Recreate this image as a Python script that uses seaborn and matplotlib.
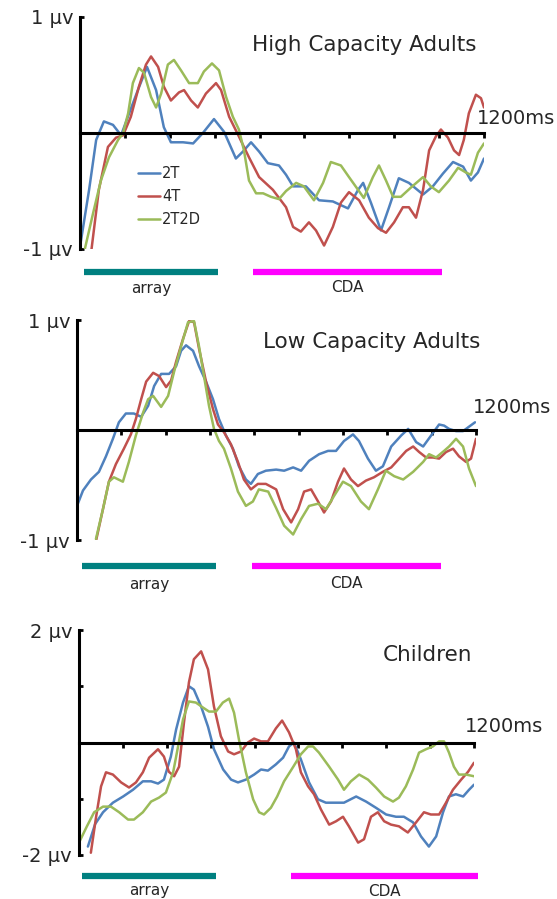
import numpy as np
import pandas as pd
import matplotlib
matplotlib.use('Agg')
import matplotlib.pyplot as plt
import seaborn as sns

# conditions and colours
conditions = ['2T', '4T', '2T2D']
palette = {'2T': '#4f81bd', '4T': '#c0504d', '2T2D': '#9bbb59'}

# ---- High Capacity Adults (uV, time in ms) ----
hi_2t_t = [0, 27, 48, 71, 98, 122, 146, 172, 199, 226, 249, 270, 306, 336, 365, 398, 428, 463, 484, 508,
           532, 558, 591, 612, 633, 671, 710, 751, 796, 826, 841, 864, 894, 918, 947, 977, 1019, 1048, 1078, 1108,
           1138, 1161, 1182, 1200]
hi_2t_v = [-0.98, -0.49, -0.06, 0.10, 0.07, -0.02, 0.17, 0.37, 0.57, 0.37, 0.05, -0.08, -0.08, -0.09, 0.0, 0.12,
           0.01, -0.22, -0.16, -0.08, -0.16, -0.26, -0.28, -0.36, -0.46, -0.46, -0.58, -0.59, -0.65, -0.49,
           -0.43, -0.60, -0.84, -0.64, -0.39, -0.43, -0.53, -0.46, -0.35, -0.25, -0.29, -0.41, -0.34, -0.22]
hi_4t_t = [33, 56, 83, 107, 128, 151, 175, 196, 211, 232, 249, 270, 294, 309, 330, 350, 374, 404, 419, 443,
           472, 502, 532, 573, 612, 633, 656, 680, 701, 725, 751, 775, 799, 829, 858, 885, 909, 933, 959, 977,
           998, 1019, 1037, 1057, 1072, 1093, 1111, 1126, 1140, 1155, 1176, 1191, 1200]
hi_4t_v = [-1.03, -0.49, -0.12, -0.04, -0.02, 0.14, 0.40, 0.59, 0.66, 0.57, 0.40, 0.28, 0.35, 0.37, 0.28,
           0.22, 0.34, 0.43, 0.37, 0.14, -0.03, -0.21, -0.38, -0.49, -0.64, -0.81, -0.85, -0.77, -0.84, -0.97,
           -0.81, -0.60, -0.51, -0.58, -0.73, -0.82, -0.86, -0.77, -0.64, -0.64, -0.73, -0.49, -0.15, -0.03,
           0.03, -0.04, -0.15, -0.19, -0.06, 0.17, 0.33, 0.30, 0.22]
hi_2t2d_t = [12, 39, 62, 86, 113, 128, 143, 157, 175, 190, 211, 226, 241, 261, 279, 300, 324, 350, 368, 392,
             413, 434, 454, 472, 487, 502, 523, 544, 567, 591, 612, 642, 665, 695, 722, 745, 775, 799, 826, 843,
             870, 888, 909, 930, 953, 983, 1019, 1042, 1066, 1096, 1123, 1146, 1161, 1182, 1200]
hi_2t2d_v = [-1.03, -0.69, -0.41, -0.21, -0.06, 0.0, 0.17, 0.43, 0.56, 0.52, 0.31, 0.22, 0.34, 0.59, 0.63,
             0.54, 0.43, 0.43, 0.53, 0.60, 0.54, 0.31, 0.14, 0.03, -0.15, -0.41, -0.52, -0.52, -0.55, -0.57,
             -0.50, -0.43, -0.46, -0.58, -0.43, -0.25, -0.28, -0.38, -0.49, -0.56, -0.38, -0.28, -0.41, -0.55,
             -0.55, -0.47, -0.38, -0.46, -0.51, -0.41, -0.30, -0.34, -0.36, -0.17, -0.09]

# ---- Low Capacity Adults ----
lo_2t_t = [0, 18, 42, 66, 87, 108, 126, 147, 171, 193, 214, 232, 253, 277, 298, 313, 328, 349, 367, 388,
           409, 427, 448, 469, 487, 508, 523, 544, 568, 599, 623, 650, 674, 698, 728, 755, 779, 803, 830, 848,
           875, 899, 920, 945, 975, 996, 1020, 1041, 1065, 1089, 1104, 1119, 1140, 1161, 1179, 1197]
lo_2t_v = [-0.69, -0.55, -0.45, -0.38, -0.24, -0.08, 0.07, 0.15, 0.15, 0.12, 0.22, 0.40, 0.51, 0.51, 0.58,
           0.72, 0.77, 0.72, 0.58, 0.44, 0.28, 0.10, -0.05, -0.17, -0.33, -0.45, -0.49, -0.40, -0.37, -0.36,
           -0.37, -0.34, -0.37, -0.28, -0.22, -0.19, -0.19, -0.10, -0.04, -0.10, -0.26, -0.37, -0.33, -0.15,
           -0.05, 0.01, -0.11, -0.15, -0.05, 0.05, 0.04, 0.01, -0.01, -0.01, 0.03, 0.07]
lo_4t_t = [57, 78, 96, 117, 141, 162, 177, 193, 208, 229, 247, 268, 283, 298, 319, 337, 352, 367, 388, 409,
           424, 442, 463, 484, 502, 523, 544, 568, 599, 620, 644, 665, 683, 704, 725, 743, 764, 785, 803, 824,
           845, 869, 893, 920, 945, 969, 990, 1011, 1029, 1050, 1071, 1089, 1110, 1131, 1149, 1170, 1185, 1200]
lo_4t_v = [-1.01, -0.72, -0.47, -0.31, -0.17, -0.04, 0.10, 0.28, 0.44, 0.52, 0.49, 0.39, 0.45, 0.62, 0.83,
           0.99, 0.98, 0.74, 0.44, 0.19, 0.05, -0.02, -0.13, -0.29, -0.45, -0.54, -0.49, -0.49, -0.54, -0.72,
           -0.84, -0.72, -0.56, -0.54, -0.65, -0.75, -0.65, -0.47, -0.35, -0.45, -0.51, -0.46, -0.43, -0.38,
           -0.34, -0.26, -0.19, -0.15, -0.20, -0.25, -0.25, -0.26, -0.20, -0.17, -0.24, -0.29, -0.26, -0.08]
lo_2t2d_t = [57, 78, 96, 111, 138, 156, 177, 199, 214, 229, 253, 274, 292, 313, 334, 352, 367, 382, 397, 412,
             427, 442, 463, 484, 508, 529, 547, 575, 599, 623, 650, 674, 698, 725, 749, 773, 800, 824, 854, 878,
             905, 929, 954, 981, 1011, 1041, 1059, 1080, 1104, 1119, 1140, 1161, 1179, 1200]
lo_2t2d_v = [-0.99, -0.72, -0.47, -0.43, -0.47, -0.29, -0.05, 0.16, 0.28, 0.31, 0.21, 0.31, 0.53, 0.76, 0.98,
             0.99, 0.76, 0.49, 0.22, 0.01, -0.10, -0.17, -0.35, -0.56, -0.69, -0.65, -0.54, -0.56, -0.71, -0.87,
             -0.95, -0.81, -0.69, -0.67, -0.72, -0.60, -0.47, -0.51, -0.65, -0.72, -0.54, -0.37, -0.42, -0.45,
             -0.38, -0.29, -0.22, -0.25, -0.19, -0.15, -0.08, -0.15, -0.35, -0.51]

# ---- Children ----
ch_2t_t = [27, 49, 73, 103, 134, 164, 194, 219, 240, 258, 279, 295, 316, 334, 349, 371, 392, 410, 438, 462,
           483, 507, 532, 553, 574, 598, 620, 638, 653, 674, 699, 726, 750, 781, 805, 842, 872, 902, 933, 963,
           987, 1015, 1039, 1063, 1085, 1106, 1124, 1145, 1167, 1185, 1200]
ch_2t_v = [-1.85, -1.45, -1.24, -1.07, -0.96, -0.84, -0.69, -0.69, -0.73, -0.66, -0.25, 0.23, 0.71, 1.0, 0.94,
           0.64, 0.28, -0.12, -0.48, -0.66, -0.71, -0.66, -0.57, -0.48, -0.50, -0.39, -0.27, -0.07, 0.0, -0.30,
           -0.71, -1.01, -1.07, -1.07, -1.07, -0.96, -1.05, -1.16, -1.28, -1.32, -1.32, -1.42, -1.67, -1.85,
           -1.67, -1.24, -0.96, -0.92, -0.96, -0.84, -0.75]
ch_4t_t = [36, 52, 67, 82, 103, 128, 152, 173, 194, 213, 240, 258, 273, 289, 304, 319, 334, 349, 371, 392,
           410, 431, 453, 471, 492, 513, 532, 553, 574, 598, 617, 638, 659, 674, 696, 714, 735, 760, 781, 802,
           820, 848, 866, 887, 908, 927, 948, 972, 999, 1024, 1048, 1069, 1094, 1115, 1136, 1161, 1182, 1200]
ch_4t_v = [-1.96, -1.32, -0.78, -0.53, -0.57, -0.71, -0.80, -0.71, -0.53, -0.27, -0.12, -0.25, -0.52, -0.60,
           -0.43, 0.36, 1.07, 1.48, 1.62, 1.30, 0.64, 0.11, -0.16, -0.21, -0.16, 0.0, 0.07, 0.02, 0.02, 0.25,
           0.39, 0.18, -0.12, -0.53, -0.78, -0.92, -1.19, -1.46, -1.40, -1.32, -1.49, -1.78, -1.72, -1.32,
           -1.24, -1.40, -1.46, -1.49, -1.60, -1.42, -1.24, -1.28, -1.28, -1.07, -0.84, -0.66, -0.52, -0.36]
ch_2t2d_t = [0, 24, 46, 73, 97, 122, 149, 167, 194, 219, 243, 264, 286, 301, 316, 334, 355, 377, 395, 416,
             437, 456, 471, 486, 507, 529, 547, 562, 583, 602, 623, 650, 674, 696, 711, 729, 760, 787, 805, 826,
             851, 878, 902, 927, 954, 972, 993, 1015, 1033, 1054, 1075, 1094, 1109, 1124, 1139, 1154, 1176, 1200]
ch_2t2d_v = [-1.78, -1.49, -1.24, -1.14, -1.14, -1.24, -1.37, -1.37, -1.24, -1.05, -0.98, -0.89, -0.53, -0.07,
             0.41, 0.73, 0.71, 0.62, 0.55, 0.55, 0.71, 0.78, 0.53, 0.05, -0.53, -1.01, -1.24, -1.28, -1.16,
             -0.96, -0.69, -0.44, -0.21, -0.07, -0.07, -0.18, -0.43, -0.66, -0.84, -0.69, -0.57, -0.66, -0.80,
             -0.96, -1.05, -0.98, -0.78, -0.48, -0.18, -0.12, -0.07, 0.02, 0.02, -0.18, -0.43, -0.57, -0.57, -0.60]

# time windows of the coloured bars (ms)
array_windows = [[12, 410], [15, 418], [9, 416]]
cda_windows = [[514, 1075], [526, 1095], [644, 1212]]
titles = ['High Capacity Adults', 'Low Capacity Adults', 'Children']


def make_df(ts, vs):
    frames = []
    for c, t, v in zip(conditions, ts, vs):
        frames.append(pd.DataFrame({'t': t, 'v': v, 'cond': c}))
    return pd.concat(frames, ignore_index=True)


sns.set_style('white')
plt.rcParams['font.family'] = ['DejaVu Sans']
txt_col = '#262626'

W, H = 557, 899
fig = plt.figure(figsize=(W / 100, H / 100), dpi=100)


def px(x, y):
    return x / W, 1 - y / H


# pixel layout: left, top, right, bottom of each plot box
boxes = [(80, 17, 484, 249), (77, 320, 476, 540), (79, 630, 474, 855)]
dfs = [make_df([hi_2t_t, hi_4t_t, hi_2t2d_t], [hi_2t_v, hi_4t_v, hi_2t2d_v]),
       make_df([lo_2t_t, lo_4t_t, lo_2t2d_t], [lo_2t_v, lo_4t_v, lo_2t2d_v]),
       make_df([ch_2t_t, ch_4t_t, ch_2t2d_t], [ch_2t_v, ch_4t_v, ch_2t2d_v])]
ylims = [1, 1, 2]
bar_y = [(272, 288), (566, 584), (876, 891)]
title_pos = [(477, 45), (480, 342), (472, 655)]
ms_pos = [(477, 118), (473, 408), (465, 726)]

for i in range(3):
    l, t, r, b = boxes[i]
    ax = fig.add_axes([l / W, 1 - b / H, (r - l) / W, (b - t) / H])
    sns.lineplot(data=dfs[i], x='t', y='v', hue='cond', hue_order=conditions, palette=palette,
                 errorbar=None, lw=1.8, ax=ax, legend=(i == 0), solid_joinstyle='round')
    ym = ylims[i]
    ax.set_xlim(0, 1200)
    ax.set_ylim(-ym, ym)
    ax.set_xlabel('')
    ax.set_ylabel('')
    for s in ['top', 'right']:
        ax.spines[s].set_visible(False)
    ax.spines['bottom'].set_position(('data', 0))
    for s in ['left', 'bottom']:
        ax.spines[s].set_linewidth(2.2)
        ax.spines[s].set_color('black')
    ax.set_xticks(np.linspace(0, 1200, 10))
    ax.set_xticklabels([])
    ax.tick_params(axis='x', direction='out', length=3.5, width=2, color='black', bottom=True)
    if ym == 1:
        ax.set_yticks([-1, 1])
        ax.set_yticklabels(['-1 \u00b5v', '1 \u00b5v'])
    else:
        ax.set_yticks([-2, -1, 1, 2])
        ax.set_yticklabels(['-2 \u00b5v', '', '', '2 \u00b5v'])
    ax.tick_params(axis='y', direction='in', length=3, width=2, color='black', left=True,
                   labelsize=14, labelcolor=txt_col, pad=5)

    # stimulus / CDA bars under the axis
    trans = ax.get_xaxis_transform()
    yb = (b - bar_y[i][0]) / (b - t)
    yl = (b - bar_y[i][1]) / (b - t)
    a0, a1 = array_windows[i]
    c0, c1 = cda_windows[i]
    ax.plot([a0, a1], [yb, yb], color='#008080', lw=4.5, transform=trans, clip_on=False,
            solid_capstyle='butt')
    ax.plot([c0, c1], [yb, yb], color='#ff00ff', lw=4.5, transform=trans, clip_on=False,
            solid_capstyle='butt')
    ax.text((a0 + a1) / 2, yl, 'array', transform=trans, ha='center', va='center', fontsize=11,
            color=txt_col)
    ax.text((c0 + c1) / 2, yl, 'CDA', transform=trans, ha='center', va='center', fontsize=11,
            color=txt_col)

    fig.text(*px(*title_pos[i]), titles[i], ha='right', va='center', fontsize=15.5, color=txt_col)
    fig.text(*px(*ms_pos[i]), '1200ms', ha='left', va='center', fontsize=14, color=txt_col)

    if i == 0:
        sns.move_legend(ax, 'upper left', bbox_to_anchor=px(138, 166), bbox_transform=fig.transFigure,
                        title=None, frameon=False, fontsize=10.5, handlelength=1.5, handletextpad=0.15,
                        labelspacing=0.55, borderpad=0, borderaxespad=0, labelcolor=txt_col)

fig.savefig('out.png', dpi=100)
